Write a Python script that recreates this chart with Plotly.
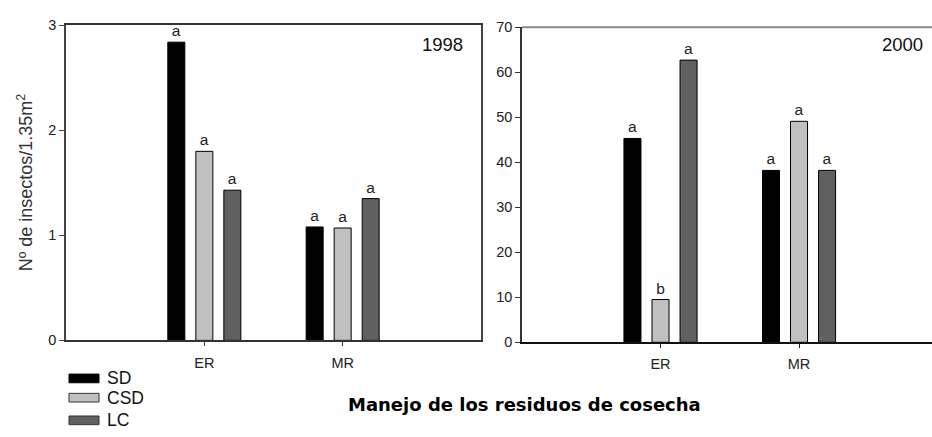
import plotly.graph_objects as go

W, H = 932, 437
FONT = "Arial, Liberation Sans, sans-serif"

categories = ["ER", "MR"]
series = ["SD", "CSD", "LC"]
colors = ["#000000", "#c0c0c0", "#606060"]

vals_1998 = {"SD": [2.84, 1.08], "CSD": [1.80, 1.07], "LC": [1.43, 1.35]}
letters_1998 = {"SD": ["a", "a"], "CSD": ["a", "a"], "LC": ["a", "a"]}
vals_2000 = {"SD": [45.3, 38.2], "CSD": [9.5, 49.1], "LC": [62.7, 38.2]}
letters_2000 = {"SD": ["a", "a"], "CSD": ["b", "a"], "LC": ["a", "a"]}

ytick_1998 = [0, 1, 2, 3]
ytick_2000 = [0, 10, 20, 30, 40, 50, 60, 70]

xpos = [1, 2]

def px(x):
    return x / W

def py(y):
    return 1 - y / H

fig = go.Figure()
for s, c in zip(series, colors):
    fig.add_trace(go.Bar(x=xpos, y=vals_1998[s], name=s, marker=dict(color=c, line=dict(color="#000", width=1)),
                         text=letters_1998[s], textposition="outside", constraintext="none", cliponaxis=False,
                         textfont=dict(family=FONT, size=15.5, color="#222"), xaxis="x", yaxis="y",
                         offsetgroup=s, showlegend=False, hoverinfo="skip"))
    fig.add_trace(go.Bar(x=xpos, y=vals_2000[s], name=s, marker=dict(color=c, line=dict(color="#000", width=1)),
                         text=letters_2000[s], textposition="outside", constraintext="none", cliponaxis=False,
                         textfont=dict(family=FONT, size=15.5, color="#222"), xaxis="x2", yaxis="y2",
                         offsetgroup=s, showlegend=False, hoverinfo="skip"))

axfont = dict(family=FONT, size=14.5, color="#222")
fig.update_layout(
    width=W, height=H, margin=dict(l=0, r=0, t=0, b=0),
    paper_bgcolor="white", plot_bgcolor="white",
    barmode="group", bargap=0.3925, bargroupgap=0.393,
    xaxis=dict(domain=[px(66), px(481)], range=[0, 3], tickvals=xpos, ticktext=categories,
               ticks="outside", ticklen=4, tickcolor="#333", showline=True, linecolor="#333", linewidth=1.5,
               mirror=True, showgrid=False, zeroline=False, tickfont=axfont, ticklabelstandoff=4, anchor="y"),
    yaxis=dict(domain=[py(345), py(18)], range=[0, 3], tickvals=ytick_1998,
               ticks="outside", ticklen=5, tickcolor="#444", showline=True, linecolor="#444", linewidth=1.5,
               mirror=True, showgrid=False, zeroline=False, tickfont=axfont, anchor="x"),
    xaxis2=dict(domain=[px(522), 1.0], range=[0, 2.96], tickvals=xpos, ticktext=categories,
                ticks="outside", ticklen=4, tickcolor="#222", showline=True, linecolor="#111", linewidth=1.5,
                showgrid=False, zeroline=False, tickfont=axfont, ticklabelstandoff=4, anchor="y2"),
    yaxis2=dict(domain=[py(347), py(20)], range=[0, 70], tickvals=ytick_2000,
                ticks="outside", ticklen=5, tickcolor="#333", showline=True, linecolor="#333", linewidth=1.5,
                showgrid=False, zeroline=False, tickfont=axfont, anchor="x2"),
    showlegend=False,
)

# top border of right panel (grey)
fig.add_shape(type="line", xref="paper", yref="paper", x0=px(522), x1=1.0, y0=py(20), y1=py(20),
              line=dict(color="#888", width=2))

ann = []
ann.append(dict(text="1998", x=px(442), y=py(38), xref="paper", yref="paper", showarrow=False,
                font=dict(family=FONT, size=18.5, color="#111"), xanchor="center", yanchor="middle"))
ann.append(dict(text="2000", x=px(902), y=py(38), xref="paper", yref="paper", showarrow=False,
                font=dict(family=FONT, size=18.5, color="#111"), xanchor="center", yanchor="middle"))
ann.append(dict(text="Nº de insectos/1.35m<sup>2</sup>", x=px(25), y=py(181), xref="paper", yref="paper",
                showarrow=False, textangle=-90, font=dict(family=FONT, size=18, color="#333"),
                xanchor="center", yanchor="middle"))
ann.append(dict(text="<b>Manejo de los residuos de cosecha</b>", x=px(524), y=py(412), xref="paper", yref="paper",
                showarrow=False, font=dict(family="DejaVu Sans, Arial, sans-serif", size=18, color="#000"),
                xanchor="center", yanchor="middle"))

legend_y = [384.5, 404.5, 428]
for s, c, ly in zip(series, colors, legend_y):
    fig.add_shape(type="rect", xref="paper", yref="paper", x0=px(69), x1=px(99), y0=py(ly + 4.5), y1=py(ly - 4.5),
                  fillcolor=c, line=dict(color="#333" if s != "SD" else "#000", width=1))
    ann.append(dict(text=s, x=px(105), y=py(ly), xref="paper", yref="paper", showarrow=False,
                    font=dict(family=FONT, size=17.5, color="#111"), xanchor="left", yanchor="middle"))

fig.update_layout(annotations=ann)
fig.write_html("out.html", config={"displayModeBar": False},
               post_script="document.body.style.margin='0';document.body.style.overflow='hidden';")
